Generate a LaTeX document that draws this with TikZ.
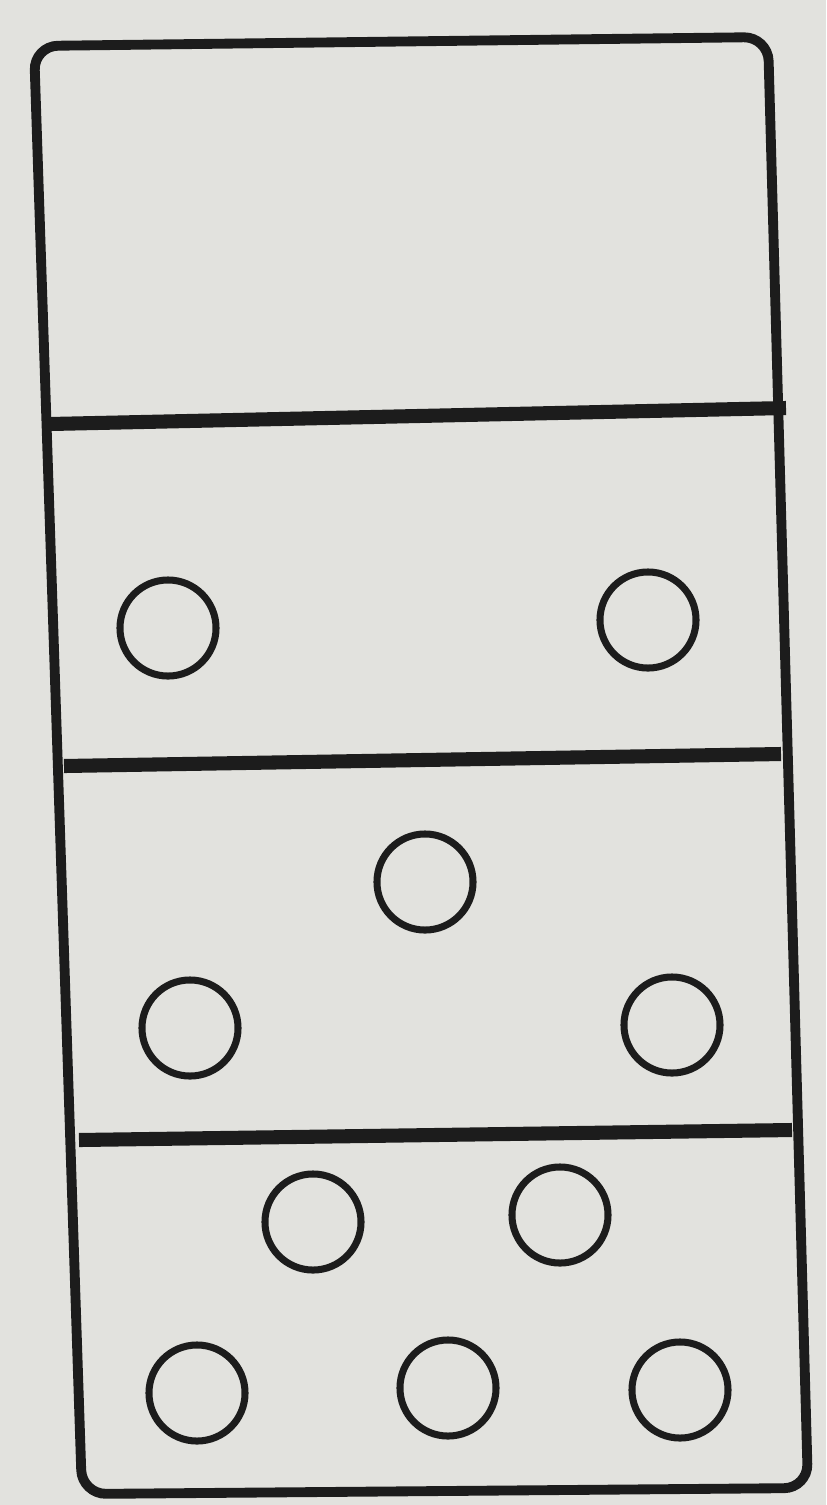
\documentclass[tikz,border=0pt]{standalone}
\usepackage{xcolor}
\usetikzlibrary{calc}

\definecolor{paper}{HTML}{E2E2DE}
\definecolor{ink}{HTML}{1C1C1C}

\begin{document}
\begin{tikzpicture}[
  x=0.01cm, y=-0.01cm,
  frame/.style={draw=ink, line width=2.8pt, rounded corners=0.24cm},
  divider/.style={draw=ink, line width=4pt},
  pip/.style={draw=ink, line width=2pt, circle, minimum size=0.96cm, inner sep=0pt}
]
% sheet
\fill[paper] (0,0) rectangle (826,1505);
\useasboundingbox (0,0) rectangle (826,1505);

% corners of the tile
\coordinate (tl) at (34,46);
\coordinate (tr) at (768,37);
\coordinate (br) at (808,1488);
\coordinate (bl) at (82,1494);
\draw[frame] (tl) -- (tr) -- (br) -- (bl) -- cycle;

% dividers
\coordinate (d1l) at (50,424);
\coordinate (d1r) at (786,408);
\coordinate (d2l) at (64,766);
\coordinate (d2r) at (781,754);
\coordinate (d3l) at (79,1140);
\coordinate (d3r) at (792,1130);
\draw[divider] (d1l) -- (d1r);
\draw[divider] (d2l) -- (d2r);
\draw[divider] (d3l) -- (d3r);

% two
\node[pip] (a1) at (168,628) {};
\node[pip] (a2) at (648,620) {};
% three
\node[pip] (b1) at (425,882) {};
\node[pip] (b2) at (190,1028) {};
\node[pip] (b3) at (672,1025) {};
% five
\node[pip] (c1) at (313,1222) {};
\node[pip] (c2) at (560,1215) {};
\node[pip] (c3) at (197,1393) {};
\node[pip] (c4) at (448,1388) {};
\node[pip] (c5) at (680,1390) {};
\end{tikzpicture}
\end{document}
